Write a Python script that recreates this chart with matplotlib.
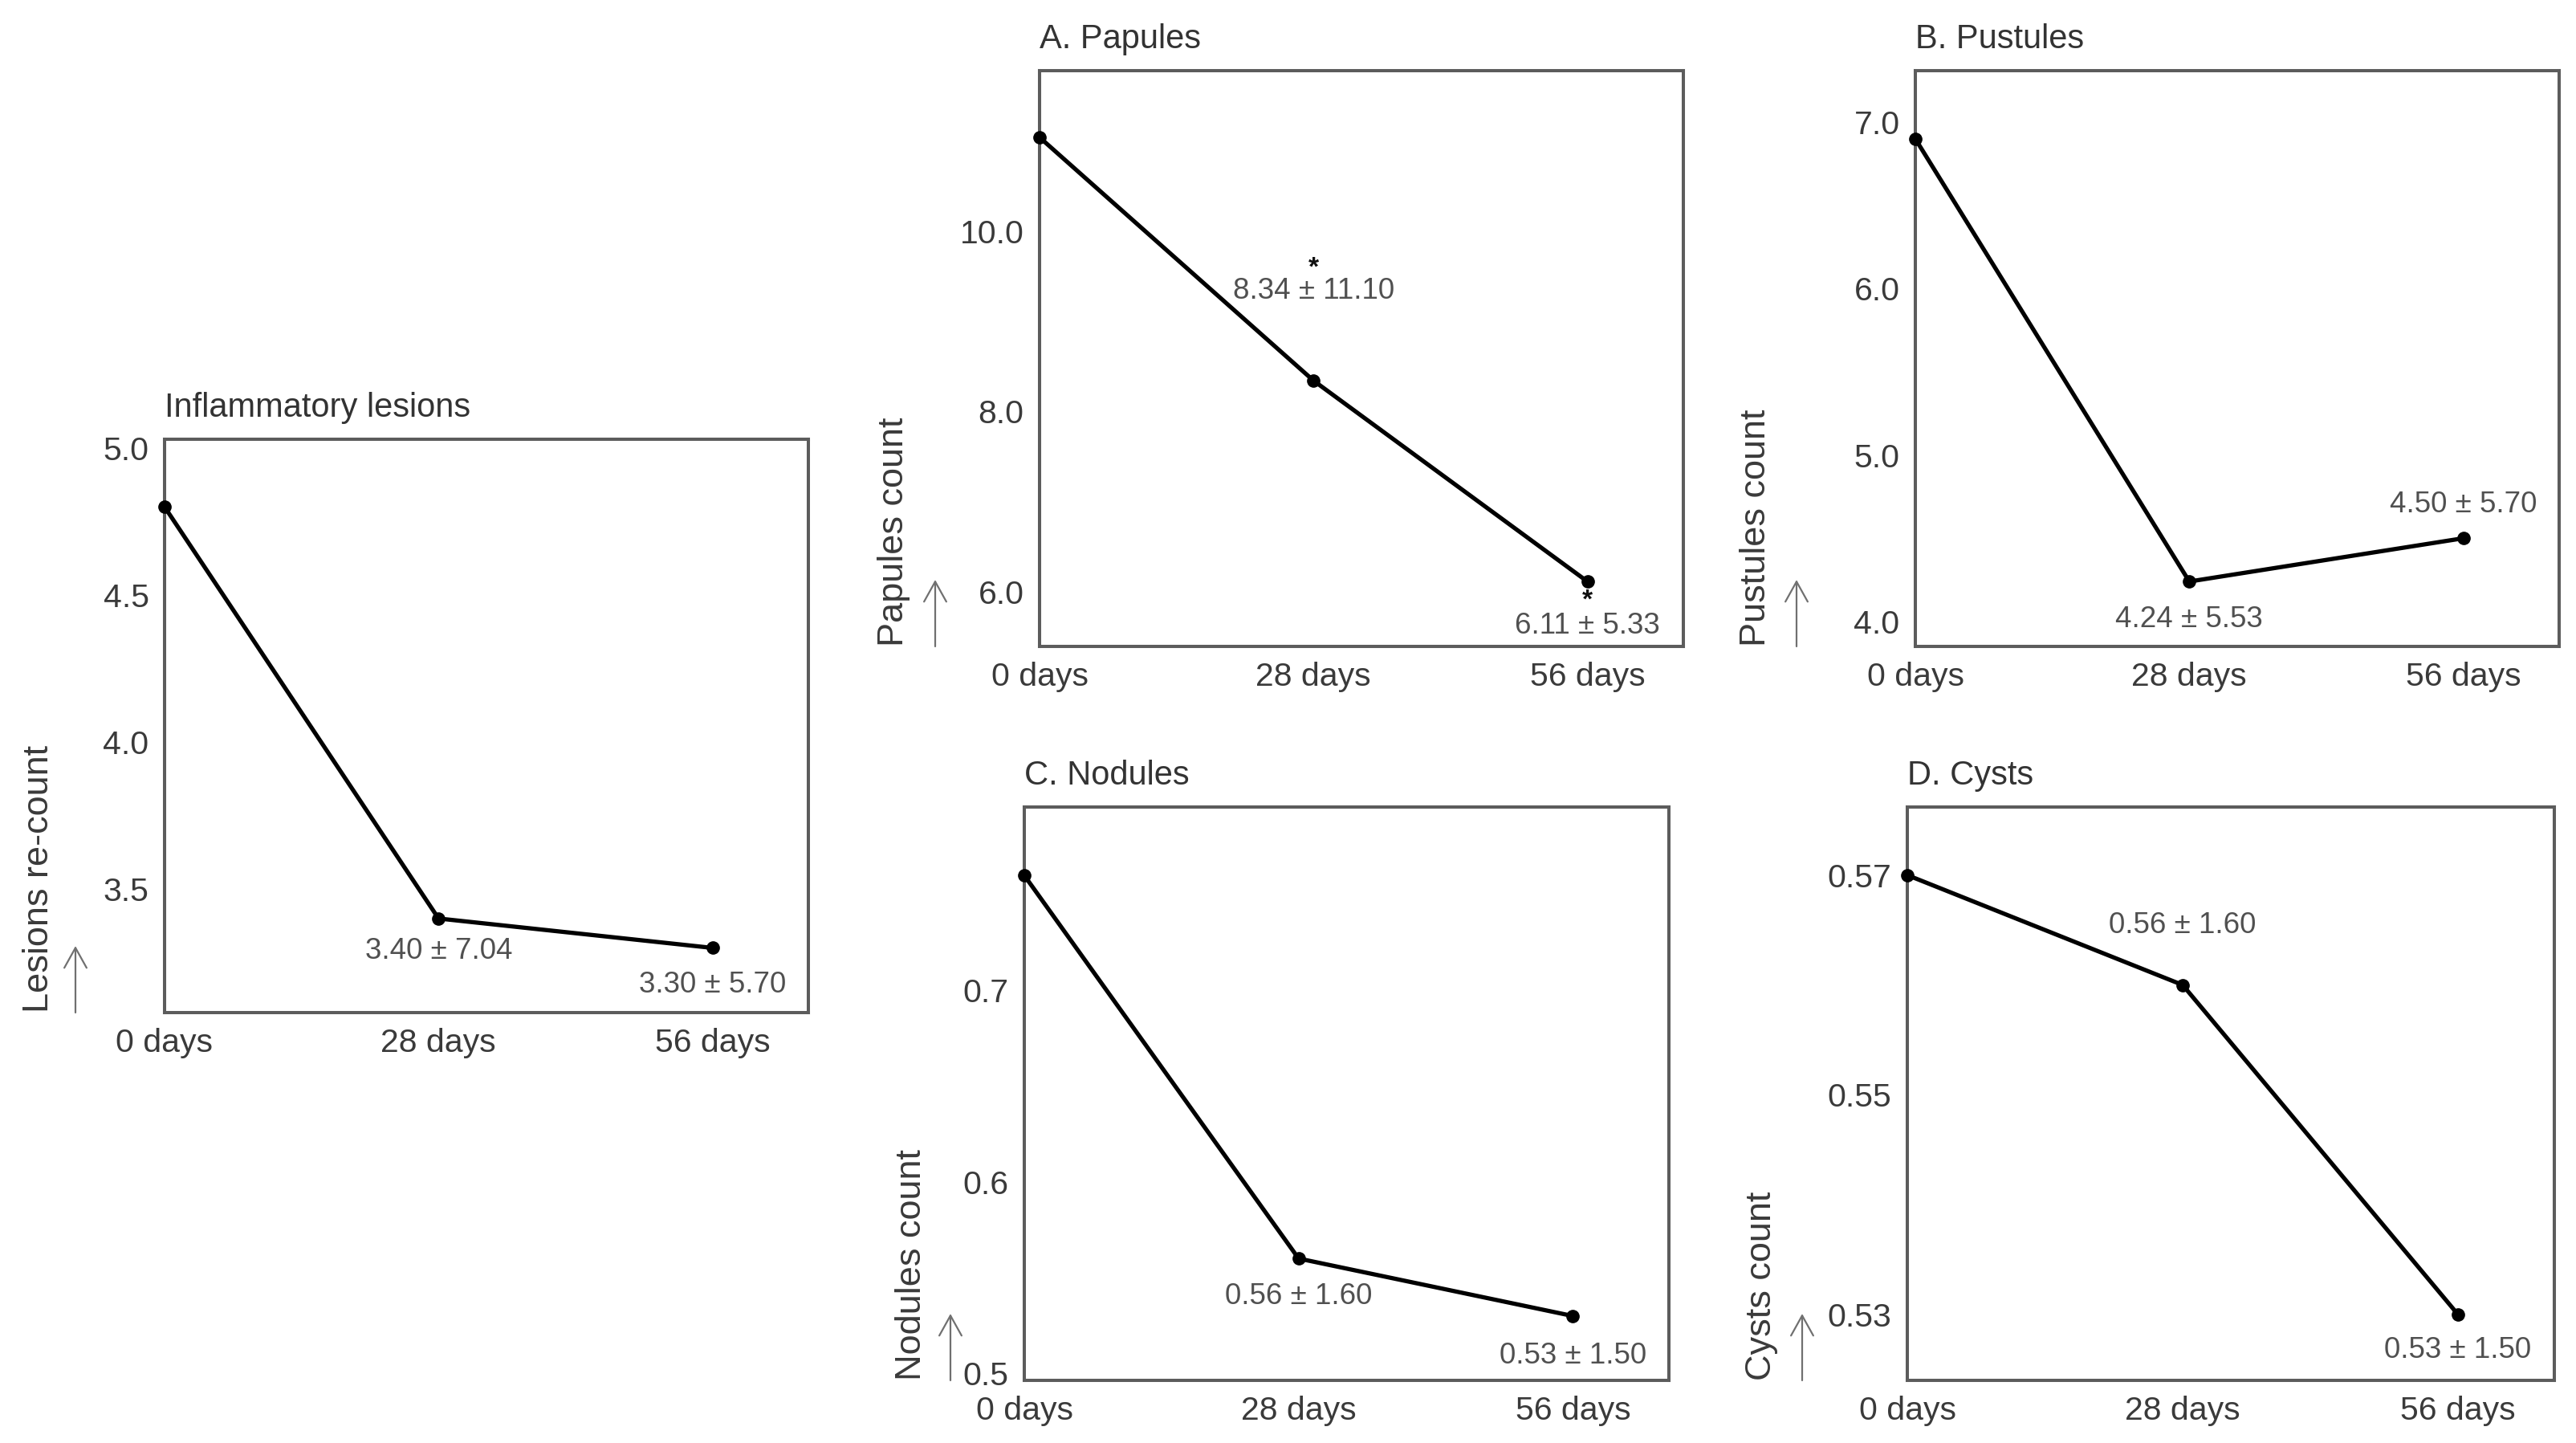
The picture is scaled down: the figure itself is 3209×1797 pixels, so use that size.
import matplotlib
matplotlib.use("Agg")
import matplotlib.pyplot as plt

plt.rcParams['font.family'] = ['Liberation Sans', 'DejaVu Sans']

# data
days = [0, 28, 56]
day_labels = ["0 days", "28 days", "56 days"]

inflammatory = [4.80, 3.40, 3.30]
papules = [11.04, 8.34, 6.11]
pustules = [6.90, 4.24, 4.50]
nodules = [0.76, 0.56, 0.53]
cysts = [0.57, 0.56, 0.53]

inflammatory_notes = ["", "3.40 \u00b1 7.04", "3.30 \u00b1 5.70"]
papules_notes = ["", "8.34 \u00b1 11.10", "6.11 \u00b1 5.33"]
pustules_notes = ["", "4.24 \u00b1 5.53", "4.50 \u00b1 5.70"]
nodules_notes = ["", "0.56 \u00b1 1.60", "0.53 \u00b1 1.50"]
cysts_notes = ["", "0.56 \u00b1 1.60", "0.53 \u00b1 1.50"]
papules_stars = ["", "*", "*"]

inflammatory_ticks = [3.5, 4.0, 4.5, 5.0]
papules_ticks = [6.0, 8.0, 10.0]
pustules_ticks = [4.0, 5.0, 6.0, 7.0]
nodules_ticks = [0.5, 0.6, 0.7]
cysts_ticks = [0.53, 0.55, 0.57]

W, H = 3209, 1797
fig = plt.figure(figsize=(W / 100, H / 100), dpi=100)

TEXT = "#3a3a3a"
NOTE = "#505050"


def make_panel(box, title, ylabel, values, ticks, fmt, ylim,
               notes, note_dy, label_dx, arrow_dx, stars=None, star_dy=None):
    left, top, right, bottom = box
    w_px, h_px = right - left, bottom - top
    ax = fig.add_axes([left / W, 1 - bottom / H, w_px / W, h_px / H])

    ax.plot(days, values, color="black", lw=3.8, marker="o", ms=11,
            clip_on=False, zorder=5)

    ax.set_xlim(0, 65.8)
    ax.set_ylim(*ylim)
    ax.set_xticks(days)
    ax.set_xticklabels(day_labels)
    ax.set_yticks(ticks)
    ax.set_yticklabels([fmt.format(t) for t in ticks])
    ax.tick_params(length=0, pad=14, labelsize=29.5, labelcolor=TEXT)
    for sp in ax.spines.values():
        sp.set_color("#5c5c5c")
        sp.set_linewidth(2.9)

    ax.set_title(title, loc="left", pad=20, fontsize=30, color="#333333")

    # y label sits at the bottom, with a small up arrow beside it
    ax.text(-label_dx / w_px, 0, ylabel, transform=ax.transAxes,
            rotation=90, ha="center", va="bottom", fontsize=32.5, color=TEXT)
    ax.annotate("", xy=(-arrow_dx / w_px, 83 / h_px), xycoords="axes fraction",
                xytext=(-arrow_dx / w_px, 0), textcoords="axes fraction",
                arrowprops=dict(arrowstyle="->,head_length=0.9,head_width=0.5",
                                mutation_scale=20, color="#707070", lw=1.6,
                                shrinkA=0, shrinkB=0),
                annotation_clip=False)

    for x, y, txt, dy in zip(days, values, notes, note_dy):
        if txt:
            ax.annotate(txt, (x, y), xytext=(0, dy), textcoords="offset pixels",
                        ha="center", va="center", fontsize=26.5, color=NOTE)
    if stars:
        for x, y, s, dy in zip(days, values, stars, star_dy):
            if s:
                ax.annotate(s, (x, y), xytext=(0, dy), textcoords="offset pixels",
                            ha="center", va="center", fontsize=24,
                            fontweight="bold", color="#111111")
    return ax


make_panel((205, 547, 1007, 1261), "Inflammatory lesions", "Lesions re-count",
           inflammatory, inflammatory_ticks, "{:.1f}", (3.08, 5.03),
           inflammatory_notes, [0, -41, -46], 156, 111)

make_panel((1295, 88, 2097, 805), "A. Papules", "Papules count",
           papules, papules_ticks, "{:.1f}", (5.39, 11.78),
           papules_notes, [0, 111, -55], 182, 130,
           stars=papules_stars, star_dy=[0, 140, -24])

make_panel((2386, 88, 3188, 805), "B. Pustules", "Pustules count",
           pustules, pustules_ticks, "{:.1f}", (3.85, 7.31),
           pustules_notes, [0, -47, 42], 199, 148)

make_panel((1276, 1005, 2079, 1719), "C. Nodules", "Nodules count",
           nodules, nodules_ticks, "{:.1f}", (0.4964, 0.7957),
           nodules_notes, [0, -47, -50], 141, 92)

make_panel((2376, 1005, 3182, 1719), "D. Cysts", "Cysts count",
           cysts, cysts_ticks, "{:.2f}", (0.524, 0.5762),
           cysts_notes, [0, 74, -45], 182, 131)

fig.savefig("out.png", dpi=100, facecolor="white")
